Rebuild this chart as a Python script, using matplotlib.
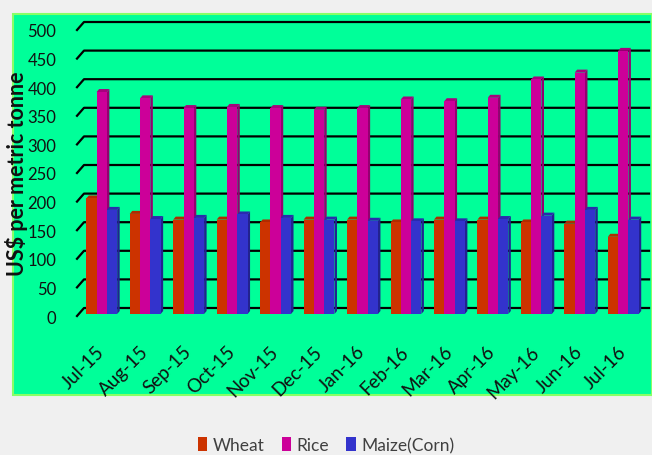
import matplotlib.pyplot as plt
from matplotlib.patches import Patch, Polygon, Rectangle
from matplotlib.transforms import ScaledTranslation

plt.rcParams["font.family"] = ["Lato", "DejaVu Sans"]

months = ["Jul-15", "Aug-15", "Sep-15", "Oct-15", "Nov-15", "Dec-15", "Jan-16",
          "Feb-16", "Mar-16", "Apr-16", "May-16", "Jun-16", "Jul-16"]
wheat = [202, 175, 165, 165, 160, 165, 165, 160, 165, 165, 160, 158, 135]
rice = [388, 377, 360, 362, 360, 357, 360, 375, 372, 378, 410, 422, 460]
maize = [182, 166, 168, 174, 168, 165, 163, 162, 162, 166, 172, 182, 165]
yticks = list(range(0, 501, 50))

# (label, values, front, side, top)
series = [
    ("Wheat", wheat, "#CC3300", "#962400", "#B02C00"),
    ("Rice", rice, "#CC0099", "#94006F", "#A8007E"),
    ("Maize(Corn)", maize, "#3333CC", "#222290", "#2A2AAE"),
]

fig = plt.figure(figsize=(6.52, 4.56), dpi=100, facecolor="#F0F0F0")
panel = Rectangle((13 / 652, 60 / 456), 639 / 652, 381 / 456,
                  transform=fig.transFigure, facecolor="#00FF99",
                  edgecolor="#88FF66", lw=1.5, zorder=-1)
fig.add_artist(panel)

ax = fig.add_axes([77 / 652, 139 / 456, 565 / 652, 286 / 456])
ax.set_facecolor("none")
x0, x1 = -0.5, len(months) - 0.5
ax.set_xlim(x0, x1)
ax.set_ylim(0, 500)
for s in ax.spines.values():
    s.set_visible(False)

# pixel -> data unit helpers for the fake 3D depth
px_x = ax.bbox.width / (x1 - x0)
px_y = ax.bbox.height / 500

# back-wall gridlines with a diagonal joining the front axis
wall_dx, wall_dy = 7 / px_x, 8 / px_y
for v in yticks:
    ax.plot([x0, x0 + wall_dx, x1 + wall_dx], [v, v + wall_dy, v + wall_dy],
            color="black", lw=1.6, clip_on=False, zorder=1)

bw = 10.3 / px_x
shift_x, shift_y = 3 / px_x, 2 / px_y
dep_x, dep_y = 2.5 / px_x, 3 / px_y
for i in range(len(months)):
    for j, (label, vals, fc, sc, tc) in enumerate(series):
        left = i + (j - 1.5) * bw + shift_x
        right = left + bw
        bot = shift_y
        top = shift_y + vals[i]
        ax.add_patch(Polygon([(right, bot), (right + dep_x, bot + dep_y),
                              (right + dep_x, top + dep_y), (right, top)],
                             closed=True, facecolor=sc, edgecolor="none", zorder=3,
                             clip_on=False))
        ax.add_patch(Polygon([(left, top), (left + dep_x, top + dep_y),
                              (right + dep_x, top + dep_y), (right, top)],
                             closed=True, facecolor=tc, edgecolor="none", zorder=3,
                             clip_on=False))
        ax.add_patch(Rectangle((left, bot), bw, vals[i], facecolor=fc,
                               edgecolor="none", zorder=3, clip_on=False))

ax.set_yticks(yticks)
ax.set_yticklabels([str(v) for v in yticks], fontsize=12, color="#111111")
ax.tick_params(axis="y", length=0, pad=15)
ax.set_xticks(range(len(months)))
ax.set_xticklabels(months, rotation=45, ha="right", rotation_mode="anchor",
                   fontsize=13.5, color="#111111")
ax.tick_params(axis="x", length=0, pad=19)
nudge = ScaledTranslation(-3 / 100, 0, fig.dpi_scale_trans)
for lbl in ax.get_xticklabels():
    lbl.set_transform(lbl.get_transform() + nudge)
ax.set_ylabel("US$ per metric tonne", fontsize=15.5, fontweight="bold", color="#111111")
ax.yaxis.set_label_coords(-0.087, 0.5)

handles = [Patch(facecolor=fc, edgecolor="none", label=label)
           for label, _, fc, _, _ in series]
fig.legend(handles=handles, loc="center", bbox_to_anchor=(0.5, 10 / 456), ncol=3,
           frameon=False, fontsize=12.5, handlelength=0.55, handleheight=0.9,
           handletextpad=0.3, columnspacing=1.0, labelcolor="#404040")

fig.savefig("out.png", dpi=100, facecolor=fig.get_facecolor())
